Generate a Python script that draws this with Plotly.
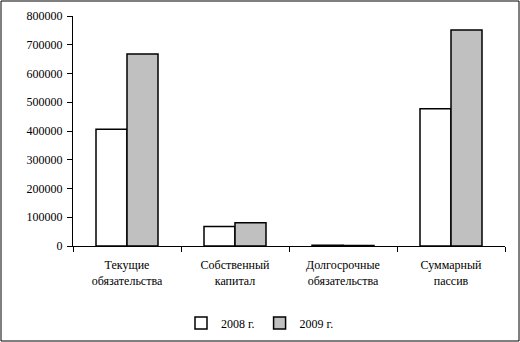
import plotly.graph_objects as go

categories = ["Текущие<br>обязательства", "Собственный<br>капитал",
              "Долгосрочные<br>обязательства", "Суммарный<br>пассив"]
series_names = ["2008 г.", "2009 г."]
values_2008 = [406000, 68000, 3000, 477000]
values_2009 = [668000, 81000, 2000, 751000]
y_ticks = [0, 100000, 200000, 300000, 400000, 500000, 600000, 700000, 800000]

W, H = 520, 342
ml, mr, mt, mb = 73, 15, 16, 96
pw, ph = W - ml - mr, H - mt - mb

font = dict(family="'Times New Roman', 'Liberation Serif', 'DejaVu Serif', serif",
            size=12, color="black")

fig = go.Figure()
fig.add_trace(go.Bar(x=categories, y=values_2008, name=series_names[0],
                     marker=dict(color="white", line=dict(color="black", width=1.5))))
fig.add_trace(go.Bar(x=categories, y=values_2009, name=series_names[1],
                     marker=dict(color="#c0c0c0", line=dict(color="black", width=1.5))))

fig.update_layout(
    width=W, height=H,
    margin=dict(l=ml, r=mr, t=mt, b=mb, autoexpand=False),
    paper_bgcolor="white", plot_bgcolor="white",
    font=font,
    barmode="group", bargap=0.426, bargroupgap=0,
    showlegend=True,
    legend=dict(orientation="h", x=0.5, xref="container", xanchor="center",
                y=19 / H, yref="container", yanchor="middle",
                font=font, tracegroupgap=0, traceorder="normal",
                bgcolor="rgba(0,0,0,0)"),
    xaxis=dict(showline=True, linecolor="black", linewidth=1, ticks="outside",
               tickson="boundaries", ticklen=5, tickcolor="black", showgrid=False,
               tickfont=font, automargin=False, ticklabelstandoff=8),
    yaxis=dict(range=[0, 800000], tickvals=y_ticks, tickformat="d", showline=True,
               linecolor="black", linewidth=1, ticks="outside", ticklen=5,
               tickcolor="black", showgrid=False, zeroline=False, tickfont=font,
               ticklabelstandoff=2, automargin=False),
    shapes=[dict(type="rect", xref="paper", yref="paper",
                 x0=(-ml + 1) / pw, x1=1 + (mr - 1) / pw,
                 y0=-(mb - 1) / ph, y1=1 + (mt - 1) / ph,
                 line=dict(color="black", width=1))],
)

fig.write_html("out.html")
